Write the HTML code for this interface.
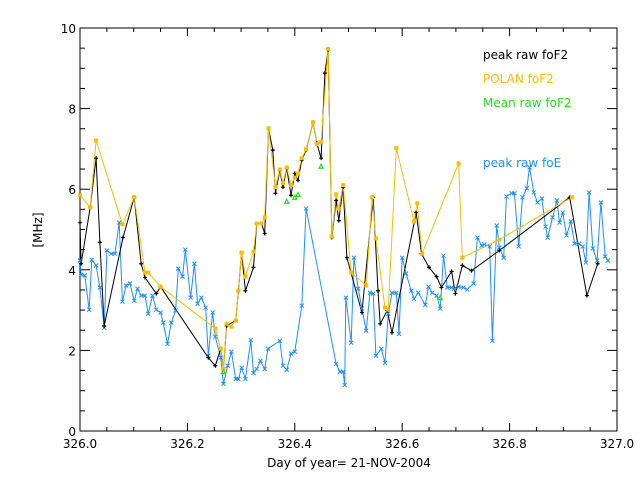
<!DOCTYPE html>
<html><head><meta charset="utf-8"><style>
body{margin:0;background:#fff;}
svg{display:block;font-family:"DejaVu Sans","Liberation Sans",sans-serif;}
</style></head><body>
<svg id="chart" width="640" height="480" xmlns="http://www.w3.org/2000/svg">
<rect width="640" height="480" fill="#fff"/>
<g id="axes"></g>
<g id="series"></g>
<text x="42" y="230" font-size="12" text-anchor="middle" transform="rotate(-90 42 230)">[MHz]</text>
<text x="349" y="467" font-size="12" text-anchor="middle">Day of year= 21-NOV-2004</text>
<text x="483" y="59" font-size="12" fill="#000">peak raw foF2</text>
<text x="483" y="83" font-size="12" fill="#ffbb00">POLAN foF2</text>
<text x="483" y="107" font-size="12" fill="#22dd22">Mean raw foF2</text>
<text x="483" y="167" font-size="12" fill="#1e90ff">peak raw foE</text>
</svg>
<script>
const xTicks=[326.0,326.2,326.4,326.6,326.8,327.0];
const xTickLabels=["326.0","326.2","326.4","326.6","326.8","327.0"];
const yTicks=[0,2,4,6,8,10];
const yTickLabels=["0","2","4","6","8","10"];
const blackX=[326.0,326.002,326.019,326.030,326.037,326.045,326.080,326.101,326.114,326.121,326.142,326.150,326.239,326.252,326.262,326.267,326.273,326.290,326.295,326.301,326.308,326.323,326.329,326.338,326.344,326.351,326.359,326.364,326.372,326.378,326.385,326.393,326.400,326.406,326.413,326.421,326.434,326.441,326.449,326.456,326.462,326.469,326.477,326.482,326.490,326.497,326.525,326.546,326.555,326.559,326.572,326.581,326.626,326.636,326.650,326.664,326.673,326.692,326.699,326.712,326.729,326.781,326.912,326.944,326.964];
const blackY=[5.17,4.15,5.55,6.77,4.68,2.61,4.80,5.80,4.15,3.81,3.41,3.58,1.82,1.62,2.04,1.54,2.61,2.74,3.48,4.43,3.48,4.06,5.15,5.15,4.90,7.51,6.97,5.90,6.47,6.05,6.52,5.85,6.39,6.22,6.72,6.97,7.66,7.14,6.77,8.88,9.45,4.80,5.72,5.22,6.05,4.30,2.94,5.80,3.48,2.66,2.99,2.44,5.42,4.40,4.06,3.83,3.56,3.96,3.41,4.11,3.98,4.48,5.80,3.36,4.15];
const polanX=[326.0,326.019,326.030,326.079,326.101,326.121,326.127,326.150,326.252,326.262,326.267,326.273,326.282,326.290,326.295,326.301,326.308,326.323,326.329,326.338,326.344,326.351,326.364,326.372,326.378,326.385,326.393,326.400,326.406,326.413,326.421,326.434,326.441,326.449,326.462,326.469,326.477,326.482,326.490,326.505,326.533,326.544,326.551,326.568,326.574,326.589,326.622,326.628,326.637,326.705,326.712,326.781,326.916];
const polanY=[5.85,5.55,7.21,5.13,5.80,3.93,3.93,3.58,2.54,2.04,1.54,2.66,2.59,2.74,3.48,4.43,3.83,4.45,5.15,5.15,5.30,7.51,6.05,6.49,6.15,6.54,6.10,6.29,6.39,6.77,6.99,7.66,7.12,7.17,9.48,4.83,5.87,5.52,6.10,3.93,3.61,5.80,4.78,3.06,3.01,7.02,5.20,5.65,4.40,6.64,4.30,4.75,5.80];
const meanX=[326.267,326.385,326.400,326.406,326.449,326.671];
const meanY=[1.47,5.70,5.80,5.87,6.57,3.31];
const foeX=[326.0,326.002,326.009,326.017,326.022,326.030,326.037,326.045,326.050,326.058,326.065,326.073,326.079,326.086,326.093,326.101,326.107,326.114,326.121,326.127,326.135,326.142,326.150,326.155,326.163,326.170,326.178,326.183,326.191,326.196,326.206,326.213,326.219,326.226,326.234,326.239,326.247,326.252,326.262,326.267,326.275,326.282,326.290,326.295,326.301,326.308,326.318,326.323,326.329,326.336,326.344,326.350,326.372,326.378,326.385,326.393,326.400,326.413,326.421,326.477,326.484,326.490,326.493,326.495,326.505,326.510,326.518,326.525,326.533,326.540,326.546,326.551,326.561,326.568,326.574,326.581,326.589,326.594,326.600,326.607,326.617,326.622,326.630,326.643,326.649,326.656,326.664,326.671,326.677,326.684,326.692,326.697,326.705,326.714,326.721,326.733,326.740,326.748,326.753,326.763,326.768,326.776,326.781,326.789,326.794,326.804,326.809,326.817,326.824,326.832,326.837,326.845,326.852,326.860,326.867,326.871,326.880,326.888,326.893,326.899,326.906,326.914,326.921,326.929,326.936,326.942,326.948,326.955,326.963,326.970,326.978,326.983];
const foeY=[4.23,3.88,3.86,3.01,4.25,4.11,3.56,2.56,4.48,4.40,4.40,5.17,3.21,3.61,3.66,3.23,3.53,3.36,3.36,2.91,3.36,3.01,2.94,2.69,2.16,2.69,2.99,4.03,3.83,4.50,3.31,4.15,3.16,3.31,3.06,1.87,2.94,2.34,1.82,1.17,1.62,1.97,1.29,1.29,1.57,1.29,2.26,1.44,1.54,1.74,1.54,2.04,2.24,1.62,1.52,1.92,1.97,3.11,5.52,1.67,1.47,1.47,1.14,3.31,2.19,4.30,3.53,3.04,2.49,3.43,3.41,1.87,2.04,1.69,2.91,3.43,3.43,2.41,4.30,3.91,3.48,3.28,3.43,3.13,3.58,3.43,3.36,3.04,4.35,3.56,3.56,3.53,3.58,3.56,3.51,3.66,4.80,4.60,4.63,4.58,2.24,5.10,4.55,4.30,5.82,5.90,5.90,4.58,5.80,6.02,6.54,5.92,5.67,5.77,5.07,4.80,5.30,5.72,5.17,5.42,4.85,5.20,4.65,4.65,4.58,4.18,5.92,4.53,4.23,5.67,4.33,4.23];

const NS='http://www.w3.org/2000/svg';
const L=80,R=617,T=28,B=431;
function sx(v){return L+(v-326)/(1)*(R-L);}
function sy(v){return B-v/10*(B-T);}
function mk(tag,attrs,parent){const e=document.createElementNS(NS,tag);for(const k in attrs)e.setAttribute(k,attrs[k]);parent.appendChild(e);return e;}
const axes=document.getElementById('axes');
const frame=mk('rect',{x:L,y:T,width:R-L,height:B-T,fill:'none',stroke:'#000','stroke-width':1},axes);


for(let i=0;i<=20;i++){const v=326+i*0.05;const x=sx(v);const len=(i%4===0)?8:4;
 mk('line',{x1:x,y1:B,x2:x,y2:B-len,stroke:'#000'},axes);
 mk('line',{x1:x,y1:T,x2:x,y2:T+len,stroke:'#000'},axes);}
for(let i=0;i<=20;i++){const v=i*0.5;const y=sy(v);const len=(i%4===0)?10:5;
 mk('line',{x1:L,y1:y,x2:L+len,y2:y,stroke:'#000'},axes);
 mk('line',{x1:R,y1:y,x2:R-len,y2:y,stroke:'#000'},axes);}
xTicks.forEach((v,i)=>{const t=mk('text',{x:sx(v),y:B+17,'font-size':12,'text-anchor':'middle'},axes);t.textContent=xTickLabels[i];
 
 });
yTicks.forEach((v,i)=>{const t=mk('text',{x:L-4,y:sy(v)+5,'font-size':12,'text-anchor':'end'},axes);t.textContent=yTickLabels[i];
 
 });
const sg=document.getElementById('series');
function line(xs,ys,color,name){const p=xs.map((x,i)=>sx(x).toFixed(1)+','+sy(ys[i]).toFixed(1)).join(' ');
 const e=mk('polyline',{points:p,fill:'none',stroke:color,'stroke-width':1},sg);
 
 }
line(foeX,foeY,'#1e90ff','foe-line');
line(blackX,blackY,'#000','peak-fof2-line');
line(polanX,polanY,'#ffbb00','polan-fof2-line');
foeX.forEach((x,i)=>{const cx=sx(x),cy=sy(foeY[i]);
 const e=mk('path',{d:`M${cx-2},${cy-2}L${cx+2},${cy+2}M${cx-2},${cy+2}L${cx+2},${cy-2}`,stroke:'#1e90ff','stroke-width':1},sg);
 
 });
blackX.forEach((x,i)=>{const cx=sx(x),cy=sy(blackY[i]);
 const e=mk('path',{d:`M${cx-2},${cy}L${cx+2},${cy}M${cx},${cy-2}L${cx},${cy+2}`,stroke:'#000','stroke-width':1.2},sg);
 
 });
polanX.forEach((x,i)=>{const cx=sx(x),cy=sy(polanY[i]);
 const e=mk('rect',{x:cx-2,y:cy-2,width:4,height:4,fill:'#ffbb00'},sg);
 
 });
meanX.forEach((x,i)=>{const cx=sx(x),cy=sy(meanY[i]);
 const e=mk('path',{d:`M${cx-2},${cy+2}L${cx+2},${cy+2}L${cx},${cy-2}Z`,fill:'none',stroke:'#22dd22','stroke-width':1.2},sg);
 
 });
</script>
</body></html>
